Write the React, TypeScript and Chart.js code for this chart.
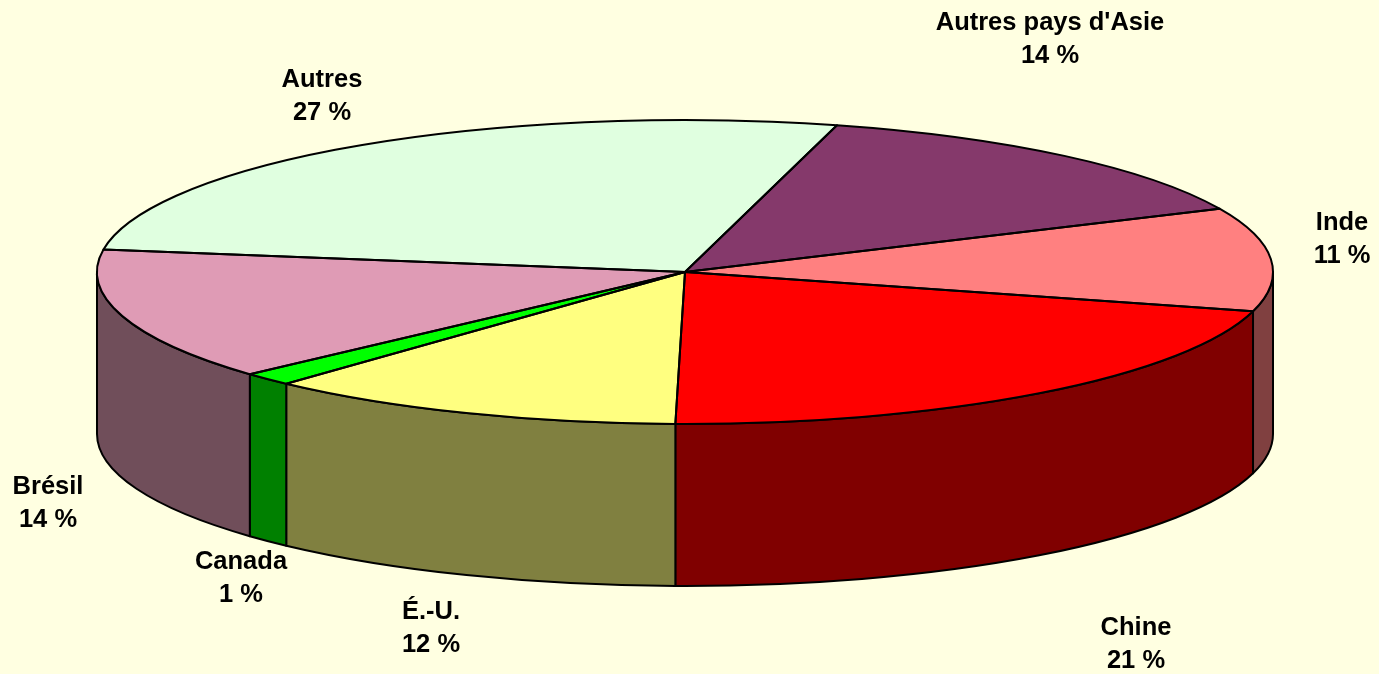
import React, { useEffect, useRef } from "react";
import Chart from "chart.js/auto";

const categories = ["Autres", "Autres pays d'Asie", "Inde", "Chine", "É.-U.", "Canada", "Brésil"];
const shares = [26.8, 14.0, 11.0, 21.1, 11.6, 1.4, 14.1];
const topColors = ["#E0FFE0", "#85396B", "#FF8080", "#FF0000", "#FFFF80", "#00FF00", "#DF9BB5"];
const sideColors = ["#707F70", "#421C35", "#804040", "#800000", "#808040", "#008000", "#704E5A"];
const labelCenters = [
  [322, 80],
  [1050, 23],
  [1342, 223],
  [1136, 628],
  [431, 612],
  [241, 562],
  [48, 487],
];

const BG = "#FFFFE1";
const SQUASH = 152 / 588;
const DEPTH = 162;
const RADIUS = 588;
const LINE_GAP = 33;

const pie3d = {
  id: "pie3d",
  beforeDatasetsDraw(chart: any) {
    const ctx = chart.ctx;
    const arcs = chart.getDatasetMeta(0).data;
    ctx.save();
    ctx.lineWidth = 2;
    ctx.strokeStyle = "#000";
    ctx.lineJoin = "round";
    arcs.forEach((arc: any, i: number) => {
      for (let k = -1; k <= 1; k++) {
        const lo = Math.max(arc.startAngle + k * 2 * Math.PI, 0);
        const hi = Math.min(arc.endAngle + k * 2 * Math.PI, Math.PI);
        if (lo >= hi) continue;
        const rx = arc.outerRadius;
        const ry = rx * SQUASH;
        ctx.beginPath();
        ctx.ellipse(arc.x, arc.y, rx, ry, 0, lo, hi);
        ctx.ellipse(arc.x, arc.y + DEPTH, rx, ry, 0, hi, lo, true);
        ctx.closePath();
        ctx.fillStyle = sideColors[i];
        ctx.fill();
        ctx.stroke();
      }
    });
    ctx.restore();
  },
  beforeDatasetDraw(chart: any) {
    const ctx = chart.ctx;
    const first = chart.getDatasetMeta(0).data[0];
    ctx.save();
    ctx.translate(first.x, first.y);
    ctx.scale(1, SQUASH);
    ctx.translate(-first.x, -first.y);
  },
  afterDatasetDraw(chart: any) {
    const ctx = chart.ctx;
    ctx.restore();
    const arcs = chart.getDatasetMeta(0).data;
    ctx.save();
    ctx.lineWidth = 2;
    ctx.strokeStyle = "#000";
    ctx.lineJoin = "round";
    arcs.forEach((arc: any) => {
      const rx = arc.outerRadius;
      ctx.beginPath();
      ctx.moveTo(arc.x, arc.y);
      ctx.ellipse(arc.x, arc.y, rx, rx * SQUASH, 0, arc.startAngle, arc.endAngle);
      ctx.closePath();
      ctx.stroke();
    });
    ctx.restore();
  },
  afterDraw(chart: any) {
    const ctx = chart.ctx;
    const values = chart.data.datasets[0].data;
    ctx.save();
    ctx.fillStyle = "#000";
    ctx.font = 'bold 25.5px "Liberation Sans", Arial, sans-serif';
    ctx.textAlign = "center";
    ctx.textBaseline = "middle";
    chart.data.labels.forEach((name: string, i: number) => {
      const [x, y] = labelCenters[i];
      ctx.fillText(name, x, y);
      ctx.fillText(`${Math.round(values[i])} %`, x, y + LINE_GAP);
    });
    ctx.restore();
  },
};

export default function App() {
  const ref = useRef<HTMLCanvasElement>(null);
  useEffect(() => {
    document.body.style.margin = "0";
    document.body.style.background = BG;
    const chart = new Chart(ref.current!, {
      type: "pie",
      data: {
        labels: categories,
        datasets: [
          {
            data: shares,
            backgroundColor: topColors,
            borderWidth: 0,
            clip: false,
          } as any,
        ],
      },
      options: {
        responsive: false,
        animation: false,
        events: [],
        rotation: -81.5,
        radius: RADIUS,
        layout: { padding: { left: 0, right: 9, top: 0, bottom: 130 } },
        plugins: { legend: { display: false }, tooltip: { enabled: false } },
      },
      plugins: [pie3d],
    } as any);
    return () => chart.destroy();
  }, []);
  return (
    <canvas
      ref={ref}
      width={1379}
      height={674}
      style={{ display: "block", width: 1379, height: 674, background: BG }}
    />
  );
}
